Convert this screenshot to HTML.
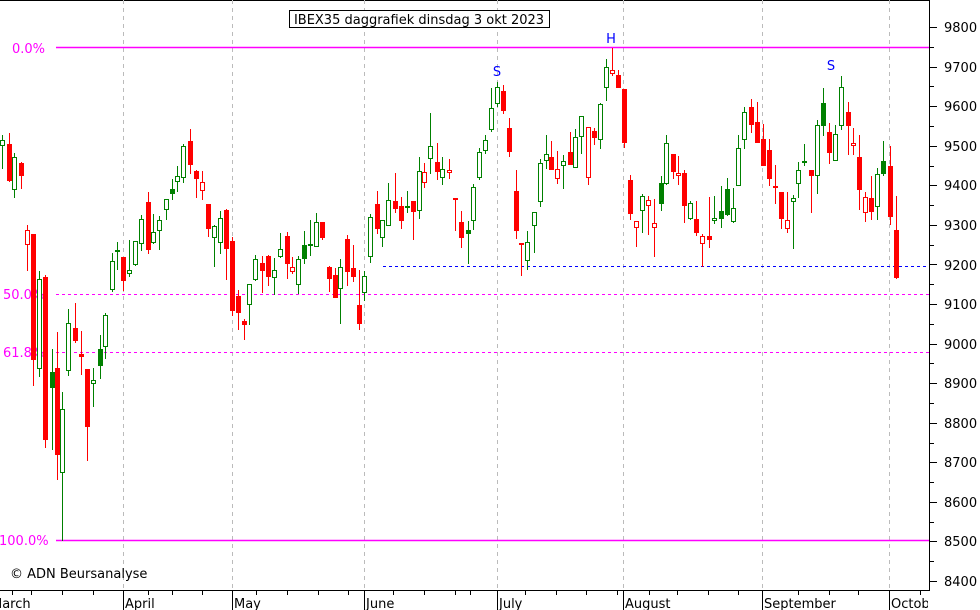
<!DOCTYPE html>
<html><head><meta charset="utf-8"><style>
html,body{margin:0;padding:0;background:#fff;}
svg{display:block;font-family:"DejaVu Sans","Liberation Sans",sans-serif;}
</style></head><body>
<svg id="c" width="980" height="610" viewBox="0 0 980 610" xmlns="http://www.w3.org/2000/svg">
<rect width="980" height="610" fill="#fff"/>
<line x1="0" y1="0.5" x2="929" y2="0.5" stroke="#000"/>
<g stroke="#bbb" stroke-dasharray="4,4" stroke-width="1">
<line x1="123.5" y1="0" x2="123.5" y2="590"/>
<line x1="232.5" y1="0" x2="232.5" y2="590"/>
<line x1="364.5" y1="0" x2="364.5" y2="590"/>
<line x1="497.5" y1="0" x2="497.5" y2="590"/>
<line x1="623.5" y1="0" x2="623.5" y2="590"/>
<line x1="762.5" y1="0" x2="762.5" y2="590"/>
<line x1="889.5" y1="0" x2="889.5" y2="590"/>
</g>
<line x1="56" y1="47.5" x2="929" y2="47.5" stroke="#ff00ff" stroke-width="1.5"/>
<line x1="56" y1="540.5" x2="929" y2="540.5" stroke="#ff00ff" stroke-width="1.5"/>
<line x1="56" y1="294.5" x2="929" y2="294.5" stroke="#ff00ff" stroke-dasharray="3,3"/>
<line x1="56" y1="352.5" x2="929" y2="352.5" stroke="#ff00ff" stroke-dasharray="3,3"/>
<line x1="383" y1="266.5" x2="929" y2="266.5" stroke="#0000ff" stroke-dasharray="3,3"/>
<g fill="#ff00ff" font-size="13">
<text x="12" y="53">0.0%</text>
<text x="3" y="299">50.0%</text>
<text x="3" y="357">61.8%</text>
<text x="-1" y="545">100.0%</text>
</g>
<g fill="#0000ff" font-size="13" text-anchor="middle">
<text x="497" y="76">S</text>
<text x="611" y="43">H</text>
<text x="831" y="70">S</text>
</g>
<rect x="289.5" y="10.5" width="260" height="17" fill="#fff" stroke="#000"/>
<text x="419" y="24" font-size="13" text-anchor="middle" fill="#000">IBEX35 daggrafiek dinsdag 3 okt 2023</text>
<g id="candles"></g>
<line x1="929.5" y1="0" x2="929.5" y2="590" stroke="#000"/>
<line x1="0" y1="590.5" x2="930" y2="590.5" stroke="#000"/>
<g id="axis" stroke="#000"></g>
<g font-size="13" fill="#000">
<text x="944" y="32">9800</text><text x="944" y="72">9700</text><text x="944" y="111">9600</text>
<text x="944" y="151">9500</text><text x="944" y="190">9400</text><text x="944" y="230">9300</text>
<text x="944" y="270">9200</text><text x="944" y="309">9100</text><text x="944" y="349">9000</text>
<text x="944" y="388">8900</text><text x="944" y="428">8800</text><text x="944" y="467">8700</text>
<text x="944" y="507">8600</text><text x="944" y="546">8500</text><text x="944" y="586">8400</text>
</g>
<text x="10" y="578" font-size="13" fill="#000">© ADN Beursanalyse</text>
<svg x="0" y="590" width="928" height="20">
<g font-size="13" fill="#000">
<text x="-9" y="18">March</text>
<text x="125" y="18">April</text>
<text x="234" y="18">May</text>
<text x="366" y="18">June</text>
<text x="499" y="18">July</text>
<text x="625" y="18">August</text>
<text x="764" y="18">September</text>
<text x="891" y="18">October</text>
</g>
</svg>
</svg>
<script>
var d=[
[2,135,168,140,145,'g'],[9,133,181,144,180,'r'],[14,153,197,157,189,'g'],[21,162,188,163,175,'r'],
[27,225,270,230,244,'R'],[33,234,385,234,359,'r'],[39,271,376,279,368,'g'],[45,275,447,277,439,'r'],
[52,349,449,372,387,'G'],[57,332,479,368,454,'r'],[62,392,540,409,472,'g'],[68,309,375,323,370,'g'],
[75,303,342,328,340,'r'],[81,331,374,354,356,'r'],[87,369,460,369,426,'r'],[93,368,406,380,383,'g'],
[100,335,378,349,365,'G'],[105,313,358,315,346,'g'],[112,253,291,261,289,'g'],[117,242,269,250,250,'g'],
[123,257,290,257,280,'r'],[129,240,276,270,273,'g'],[135,241,265,241,264,'g'],[141,215,250,219,243,'g'],
[148,192,253,202,249,'r'],[153,214,243,232,242,'g'],[159,216,249,220,230,'g'],[166,199,219,199,209,'g'],
[172,179,199,189,193,'G'],[177,166,191,176,181,'g'],[183,144,182,146,177,'g'],[190,129,173,141,164,'r'],
[196,170,197,171,178,'r'],[202,171,199,182,190,'R'],[208,204,236,204,228,'r'],[214,225,266,226,237,'g'],
[220,211,253,218,242,'g'],[226,209,279,210,248,'r'],[232,237,315,241,310,'r'],[238,290,329,296,312,'r'],
[244,319,339,321,324,'r'],[249,284,324,284,304,'g'],[255,255,280,259,279,'g'],[262,256,292,263,270,'r'],
[268,255,285,256,276,'r'],[274,258,294,270,277,'g'],[280,233,257,249,256,'g'],[287,232,278,236,263,'r'],
[292,257,273,267,271,'R'],[298,256,293,259,284,'g'],[304,231,263,245,258,'G'],[310,220,255,244,244,'g'],
[316,213,246,222,246,'g'],[322,222,239,222,237,'r'],[329,266,291,267,278,'r'],[335,268,297,275,297,'r'],
[340,259,323,267,288,'g'],[347,235,285,239,271,'r'],[353,245,281,268,276,'r'],[359,270,329,305,323,'r'],
[364,271,300,276,292,'g'],[370,214,262,217,256,'g'],[377,191,233,204,228,'r'],[382,220,246,220,237,'g'],
[388,183,225,200,225,'g'],[395,173,212,201,208,'r'],[401,197,228,206,220,'r'],[407,191,212,206,206,'g'],
[413,201,239,201,211,'r'],[419,157,218,171,210,'g'],[424,163,187,172,182,'R'],[430,113,173,146,158,'g'],
[437,143,179,162,171,'r'],[442,157,184,169,177,'g'],[449,159,178,170,172,'R'],[455,198,230,198,198,'r'],
[461,211,247,222,237,'r'],[468,221,263,230,233,'G'],[473,184,229,187,220,'g'],[479,148,179,152,177,'g'],
[485,135,153,140,150,'g'],[491,88,131,108,129,'g'],[497,82,106,87,103,'g'],[503,85,113,91,110,'r'],
[509,118,156,128,151,'r'],[516,170,238,191,230,'r'],[521,243,275,243,243,'r'],[527,231,269,242,260,'g'],
[534,212,252,212,225,'g'],[540,159,206,163,201,'g'],[546,135,168,154,160,'g'],[551,141,169,157,169,'r'],
[557,151,183,169,178,'R'],[563,155,188,161,165,'g'],[570,132,164,152,164,'r'],[575,129,167,137,167,'g'],
[581,116,153,116,136,'g'],[588,127,184,127,177,'R'],[594,128,144,131,137,'r'],[600,103,148,104,139,'g'],
[606,59,100,67,87,'g'],[612,48,75,70,73,'R'],[618,70,87,75,87,'r'],[624,89,147,89,142,'r'],
[630,175,219,180,213,'r'],[636,221,246,221,227,'R'],[642,194,232,196,210,'g'],[648,196,234,200,205,'R'],
[654,199,256,223,227,'R'],[661,176,210,183,203,'G'],[666,135,184,143,183,'g'],[673,154,178,154,171,'r'],
[678,156,184,173,175,'R'],[684,170,222,173,205,'r'],[690,201,219,203,218,'g'],[696,201,235,219,232,'r'],
[702,234,266,236,243,'R'],[709,197,247,236,239,'r'],[714,196,223,218,220,'g'],[721,186,227,211,218,'G'],
[727,178,215,189,214,'G'],[733,188,222,208,221,'g'],[738,135,185,148,185,'g'],[744,107,148,112,139,'g'],
[751,99,132,107,124,'r'],[757,102,142,122,142,'r'],[763,124,165,139,165,'r'],[769,139,185,150,178,'r'],
[775,165,203,186,186,'r'],[781,192,228,192,218,'r'],[787,192,232,220,228,'R'],[793,195,248,198,201,'g'],
[798,162,197,170,183,'g'],[804,144,165,161,161,'g'],[811,170,212,170,175,'r'],[817,120,193,125,175,'g'],
[823,88,135,103,125,'G'],[829,123,163,132,152,'r'],[835,125,160,134,160,'g'],[841,76,129,87,125,'g'],
[848,102,154,112,125,'r'],[853,128,154,143,145,'R'],[859,135,209,157,189,'r'],[865,192,221,197,212,'R'],
[871,176,219,198,211,'r'],[877,168,219,174,206,'g'],[883,141,175,161,173,'G'],[890,146,224,166,216,'r'],
[896,196,278,230,277,'r']
];
var ns='http://www.w3.org/2000/svg',g=document.getElementById('candles');
function el(n,a){var e=document.createElementNS(ns,n);for(var k in a)e.setAttribute(k,a[k]);g.appendChild(e);return e;}
d.forEach(function(c){
var x=c[0],t=c[5],col=(t=='g'||t=='G')?'#008000':'#ff0000',fill=(t=='G'||t=='r');
el('line',{x1:x+0.5,y1:c[1],x2:x+0.5,y2:c[2]+1,stroke:col,'stroke-width':1});
if(c[4]-c[3]<2){el('rect',{x:x-2,y:c[3],width:5,height:2,fill:col});}
else if(fill){el('rect',{x:x-2,y:c[3],width:5,height:c[4]-c[3]+1,fill:col});}
else{el('rect',{x:x-1.5,y:c[3]+0.5,width:4,height:c[4]-c[3],fill:'#fff',stroke:col,'stroke-width':1});}
});
var a=document.getElementById('axis');
function ln(x1,y1,x2,y2){var e=document.createElementNS(ns,'line');e.setAttribute('x1',x1);e.setAttribute('y1',y1);e.setAttribute('x2',x2);e.setAttribute('y2',y2);a.appendChild(e);}
for(var i=0;i<30;i++){var y=27+i*19.786;if(y>591)break;var yy=Math.round(y)+0.5;ln(929,yy,i%2==0?937:934,yy);}
var wt=[12,31,62,93,148,172,202,256,287,318,348,393,424,455,470,525,556,586,617,649,677,708,738,798,829,858,920];
wt.forEach(function(x){ln(x+0.5,590,x+0.5,595);});
[123,232,364,497,623,762,889].forEach(function(x){ln(x+0.5,590,x+0.5,610);});
</script>
</body></html>
